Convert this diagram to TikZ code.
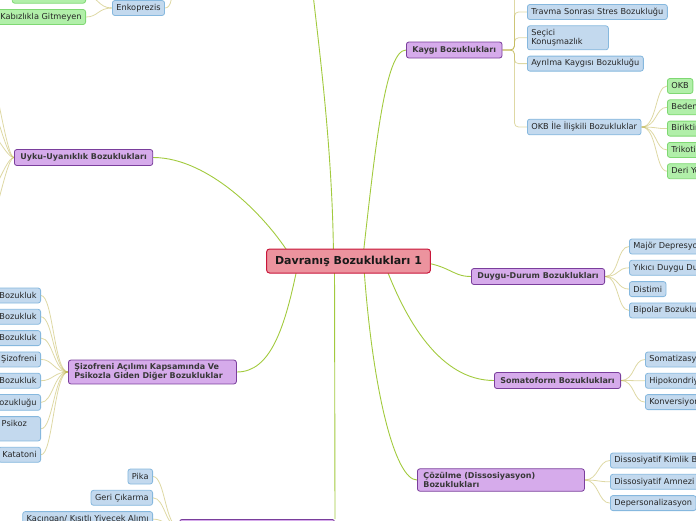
\documentclass[tikz,border=0pt]{standalone}
\usepackage{fontspec}
\setmainfont{DejaVu Sans}
\usetikzlibrary{positioning, backgrounds}

\definecolor{rootfill}{HTML}{EC939E}
\definecolor{rootline}{HTML}{C8163A}
\definecolor{topicfill}{HTML}{D6ABEB}
\definecolor{topicline}{HTML}{7A3E9C}
\definecolor{subfill}{HTML}{C3D9EE}
\definecolor{subline}{HTML}{86B8DE}
\definecolor{leaffill}{HTML}{B1EFA9}
\definecolor{leafline}{HTML}{7FD873}
\definecolor{mainlinkc}{HTML}{A2CA3E}
\definecolor{sublinkc}{HTML}{BDB24A}

\begin{document}
\begin{tikzpicture}[
    x=1pt, y=-1pt,
    node distance=5.5pt,
    root/.style={draw=rootline, fill=rootfill, line width=1pt, rounded corners=3pt, font=\fontsize{11}{13}\selectfont\bfseries, text=black!90, inner xsep=8.5pt, minimum height=24pt},
    topic/.style={draw=topicline, fill=topicfill, line width=0.8pt, rounded corners=2.5pt, font=\fontsize{8}{9.5}\selectfont\bfseries, text=black!78, inner xsep=6pt, inner ysep=3.3pt, minimum height=16pt, align=left},
    sub/.style={draw=subline, fill=subfill, line width=0.8pt, rounded corners=2.5pt, font=\fontsize{8.2}{9.6}\selectfont, text=black!85, inner xsep=4pt, inner ysep=3.3pt, minimum height=15pt, align=left},
    leaf/.style={sub, draw=leafline, fill=leaffill},
    mainlink/.style={draw=mainlinkc, line width=0.9pt},
    sublink/.style={draw=sublinkc, draw opacity=0.5, line width=0.8pt}
    ]
    \useasboundingbox (0,0) rectangle (696,520);

    % centre and main branches
    \node (root) [root] at (348.5,261) {Davranış Bozuklukları 1};
    \node (kaygi) [topic, anchor=west] at (406,50) {Kaygı Bozuklukları};
    \node (duygu) [topic, anchor=west] at (471,276.5) {Duygu-Durum Bozuklukları};
    \node (soma) [topic, anchor=west] at (494,380.5) {Somatoform Bozuklukları};
    \node (cozulme) [topic, anchor=west, text width=155pt] at (417,480) {Çözülme (Dissosiyasyon)\\Bozuklukları};
    \node (uyku) [topic, anchor=west] at (14,157.5) {Uyku-Uyanıklık Bozuklukları};
    \node (sizo) [topic, anchor=west, text width=156pt] at (68,372) {Şizofreni Açılımı Kapsamında Ve\\Psikozla Giden Diğer Bozukluklar};
    \node (beslenme) [topic, anchor=north east, minimum width=155pt] at (335,519) {Beslenme ve Yeme Bozuklukları};

    % kaygi
    \node (travma) [sub, anchor=west] at (527,12) {Travma Sonrası Stres Bozukluğu};
    \node (kaygiTop) [sub, above=of travma.north west, anchor=south west, minimum width=53pt] {};
    \node (secici) [sub, below=of travma.south west, anchor=north west, text width=73pt] {Seçici\\Konuşmazlık};
    \node (ayrilma) [sub, below=of secici.south west, anchor=north west] {Ayrılma Kaygısı Bozukluğu};
    \node (okbIle) [sub, anchor=west] at (527,127) {OKB İle İlişkili Bozukluklar};

    \node (okb) [leaf, anchor=west] at (667,86) {OKB};
    \node (beden) [leaf, below=of okb.south west, anchor=north west] {Beden Dismorfik Bozukluğu};
    \node (biriktirme) [leaf, below=of beden.south west, anchor=north west] {Biriktirme Bozukluğu};
    \node (triko) [leaf, below=of biriktirme.south west, anchor=north west] {Trikotillomani};
    \node (deri) [leaf, below=of triko.south west, anchor=north west] {Deri Yolma Bozukluğu};

    % duygu-durum
    \node (major) [sub, anchor=west] at (629,246.5) {Majör Depresyon Bozukluğu};
    \node (yikici) [sub, below=of major.south west, anchor=north west] {Yıkıcı Duygu Durumu Düzenleyememe Bozukluğu};
    \node (distimi) [sub, below=of yikici.south west, anchor=north west] {Distimi};
    \node (bipolar) [sub, below=of distimi.south west, anchor=north west] {Bipolar Bozukluk};

    % somatoform
    \node (somatiz) [sub, anchor=west] at (645,359.5) {Somatizasyon Bozukluğu};
    \node (hipo) [sub, below=of somatiz.south west, anchor=north west] {Hipokondriyazis};
    \node (konv) [sub, below=of hipo.south west, anchor=north west] {Konversiyon Bozukluğu};

    % cozulme
    \node (kimlik) [sub, anchor=west] at (610,460.5) {Dissosiyatif Kimlik Bozukluğu};
    \node (amnezi) [sub, below=of kimlik.south west, anchor=north west] {Dissosiyatif Amnezi};
    \node (deperson) [sub, below=of amnezi.south west, anchor=north west] {Depersonalizasyon};

    % sizofreni
    \node (sanrili) [sub, anchor=east] at (41,295.5) {Sanrılı Bozukluk};
    \node (kisa) [sub, below=of sanrili.south east, anchor=north east] {Kısa Psikotik Bozukluk};
    \node (sizoform) [sub, below=of kisa.south east, anchor=north east] {Şizofreniform Bozukluk};
    \node (sizofreni) [sub, below=of sizoform.south east, anchor=north east] {Şizofreni};
    \node (sizoaff) [sub, below=of sizofreni.south east, anchor=north east] {Şizoaffektif Bozukluk};
    \node (madde) [sub, below=of sizoaff.south east, anchor=north east] {Madde/İlacın Yol Açtığı Psikoz Bozukluğu};
    \node (psikoz) [sub, below=of madde.south east, anchor=north east, text width=173pt] {Başka Bir Sağlık Durumuna Bağlı Psikoz\\Bozukluğu};
    \node (katatoni) [sub, below=of psikoz.south east, anchor=north east] {Katatoni};

    % beslenme
    \node (pika) [sub, anchor=east] at (153,476.5) {Pika};
    \node (geri) [sub, below=of pika.south east, anchor=north east] {Geri Çıkarma};
    \node (kacingan) [sub, below=of geri.south east, anchor=north east] {Kaçıngan/ Kısıtlı Yiyecek Alımı};

    % enkoprezis
    \node (enko) [sub, anchor=west] at (112,8) {Enkoprezis};
    \node (gitmeyen) [leaf, anchor=east] at (86,17) {Kabızlıkla Gitmeyen};
    \node (giden) [leaf, above=of gitmeyen.north east, anchor=south east] {Kabızlıkla Giden};

    % off-page ends
    \coordinate (disaE) at (312,-15);
    \coordinate (disaW) at (172,-15);
    \coordinate (uykuA) at (-30,20);
    \coordinate (uykuB) at (-30,70);
    \coordinate (uykuC) at (-30,115);
    \coordinate (uykuD) at (-30,215);
    \coordinate (uykuE) at (-30,265);

    \begin{scope}[on background layer]
    \draw[mainlink] ([xshift=14pt]root.center) .. controls (375,150) and (385,50) .. (kaygi.west);
    \draw[mainlink] ([xshift=-15pt]root.center) .. controls (333,150) and (318,40) .. (disaE);
    \draw[mainlink] ([xshift=-55pt]root.center) .. controls (270,220) and (210,157.5) .. (uyku.east);
    \draw[mainlink] ([xshift=-50pt]root.center) .. controls (285,330) and (270,372) .. (sizo.east);
    \draw[mainlink] ([xshift=-14pt]root.center) -- (beslenme.north east);
    \draw[mainlink] ([xshift=15pt]root.center) .. controls (372,390) and (395,480) .. (cozulme.west);
    \draw[mainlink] ([xshift=35pt]root.center) .. controls (405,320) and (440,380.5) .. (soma.west);
    \draw[mainlink] ([xshift=60pt]root.center) .. controls (450,263) and (450,276.5) .. (duygu.west);

    \foreach \c in {kaygiTop, travma, secici, ayrilma, okbIle}
        \draw[sublink, rounded corners=4pt] (kaygi.east) -- ++(12,0) |- (\c.west);
    \foreach \c in {okb, beden, biriktirme, triko, deri}
        \draw[sublink] (okbIle.east) .. controls +(16,0) and +(-12,0) .. (\c.west);
    \foreach \c in {major, yikici, distimi, bipolar}
        \draw[sublink] (duygu.east) .. controls +(14,0) and +(-12,0) .. (\c.west);
    \foreach \c in {somatiz, hipo, konv}
        \draw[sublink] (soma.east) .. controls +(14,0) and +(-12,0) .. (\c.west);
    \foreach \c in {kimlik, amnezi, deperson}
        \draw[sublink] (cozulme.east) .. controls +(14,0) and +(-12,0) .. (\c.west);
    \foreach \c in {sanrili, kisa, sizoform, sizofreni, sizoaff, madde, psikoz, katatoni}
        \draw[sublink] (sizo.west) .. controls +(-14,0) and +(12,0) .. (\c.east);
    \foreach \c in {pika, geri, kacingan}
        \draw[sublink] (beslenme.west) .. controls +(-14,0) and +(12,0) .. (\c.east);
    \foreach \c in {giden, gitmeyen}
        \draw[sublink] (enko.west) .. controls +(-14,0) and +(12,0) .. (\c.east);
    \draw[sublink] (enko.east) .. controls +(7,0) and +(0,10) .. (disaW);
    \foreach \c in {uykuA, uykuB, uykuC, uykuD, uykuE}
        \draw[sublink] (uyku.west) .. controls +(-10,0) and +(20,0) .. (\c);
    \end{scope}
\end{tikzpicture}
\end{document}
